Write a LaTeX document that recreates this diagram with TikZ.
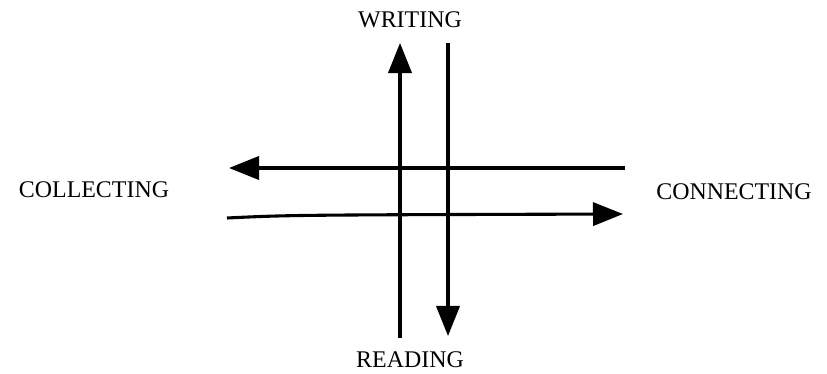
\documentclass[tikz,border=0pt]{standalone}
\usepackage{fontspec}
\setmainfont{Liberation Serif}
\usetikzlibrary{arrows.meta,positioning}
\definecolor{ink}{HTML}{000000}
\tikzset{flow/.style={line width=2.2pt,draw=ink,-{Triangle[length=7.5mm,width=5.8mm]}},
  word/.style={text=ink,inner sep=0pt,font=\fontsize{17}{20}\selectfont}}

\begin{document}
\begin{tikzpicture}[x=0.025cm,y=-0.025cm]
\useasboundingbox (0,0) rectangle (827,374);
\node[word] (writing) at (410,20) {WRITING};
\node[word] (reading) at (410,360) {READING};
\node[word] (collecting) at (94,190) {COLLECTING};
\node[word] (connecting) at (734,192) {CONNECTING};
% vertical pair
\coordinate (upfoot) at (400,338);
\coordinate (uptip) at (400,43);
\coordinate (downfoot) at (448,43);
\coordinate (downtip) at (448,336);
\draw[flow] (upfoot) -- (uptip);
\draw[flow] (downfoot) -- (downtip);
% horizontal pair
\coordinate (leftfoot) at (625,168);
\coordinate (lefttip) at (229,168);
\coordinate (rightfoot) at (227,218);
\coordinate (righttip) at (623,214);
\draw[flow] (leftfoot) -- (lefttip);
\draw[flow] (rightfoot) .. controls (290,215) .. (righttip);
\end{tikzpicture}
\end{document}
